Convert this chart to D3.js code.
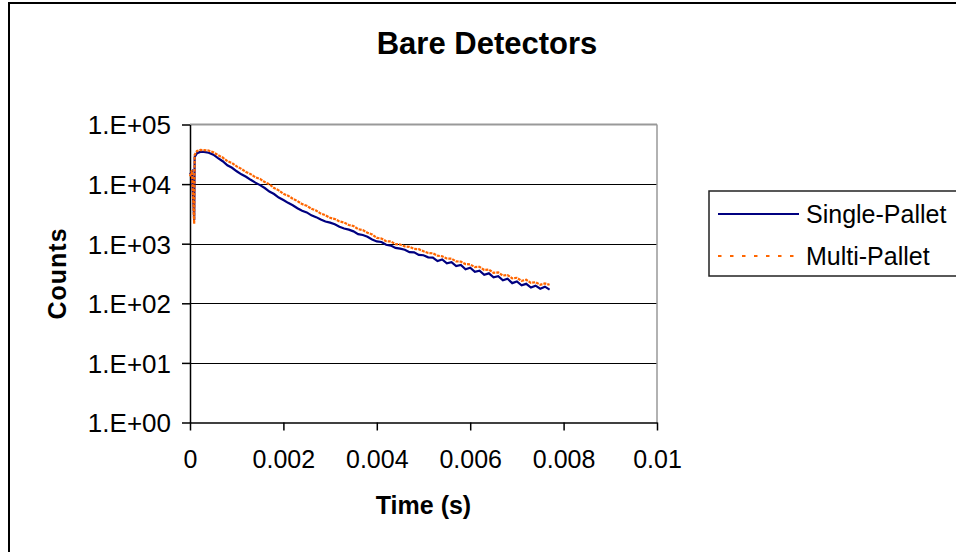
<!DOCTYPE html>
<html>
<head>
<meta charset="utf-8">
<script src="https://cdn.jsdelivr.net/npm/d3@7"></script>
<style>
	body { margin: 0; background: #fff; }
	svg { display: block; font-family: 'Liberation Sans', Arial, sans-serif; }
</style>
</head>
<body>
<svg class="chart"></svg>
<script>
const [width, height] = [956, 552]

// Time bins (s)
const times = [
	0, 0.00004, 0.00009, 0.0001, 0.00015, 0.00022,
	0.0003, 0.0004, 0.0005, 0.0006, 0.0007, 0.0008, 0.0009, 0.0010,
	0.0011, 0.0012, 0.0013, 0.0014, 0.0015, 0.0016, 0.0017, 0.0018, 0.0019, 0.0020,
	0.0021, 0.0022, 0.0023, 0.0024, 0.0025, 0.0026, 0.0027, 0.0028, 0.0029, 0.0030,
	0.0031, 0.0032, 0.0033, 0.0034, 0.0035, 0.0036, 0.0037, 0.0038, 0.0039, 0.0040,
	0.0041, 0.0042, 0.0043, 0.0044, 0.0045, 0.0046, 0.0047, 0.0048, 0.0049, 0.0050,
	0.0051, 0.0052, 0.0053, 0.0054, 0.0055, 0.0056, 0.0057, 0.0058, 0.0059, 0.0060,
	0.0061, 0.0062, 0.0063, 0.0064, 0.0065, 0.0066, 0.0067, 0.0068, 0.0069, 0.0070,
	0.0071, 0.0072, 0.0073, 0.0074, 0.0075, 0.0076, 0.0077,
]

const singlePallet = [
	14500, 16000, 2500, 28500, 33000, 34600,
	34700, 33600, 31100, 27300, 24200, 20700, 18800, 16400,
	14600, 13300, 11800, 10600, 9600, 8600, 7500, 6820, 5950, 5400,
	4850, 4420, 3940, 3580, 3350, 2990, 2790, 2540, 2360, 2260,
	2120, 1920, 1800, 1720, 1610, 1450, 1400, 1310, 1180, 1090,
	1070, 960, 930, 850, 825, 790, 720, 715, 650, 640,
	590, 585, 510, 545, 470, 490, 420, 440, 372, 395,
	338, 352, 300, 318, 272, 285, 243, 258, 218, 232,
	200, 212, 184, 198, 176, 190, 170,
]

const multiPallet = [
	13500, 17000, 2150, 31000, 36000, 37400,
	37200, 36500, 34200, 30600, 27900, 24300, 22600, 19800,
	18000, 16000, 14700, 13000, 12200, 10800, 9900, 8600, 7850, 6850,
	6400, 5680, 5200, 4620, 4330, 3850, 3600, 3200, 3000, 2720,
	2600, 2370, 2270, 2060, 1980, 1760, 1690, 1530, 1430, 1250,
	1220, 1100, 1090, 985, 970, 900, 885, 820, 810, 745,
	700, 690, 630, 615, 565, 560, 505, 500, 455, 448,
	405, 410, 362, 368, 325, 330, 292, 298, 262, 268,
	238, 248, 220, 226, 205, 215, 205,
]

const seriesNames = ['Single-Pallet', 'Multi-Pallet']
const seriesColors = ['#000080', '#ff6600']

const xTicks = [0, 0.002, 0.004, 0.006, 0.008, 0.01]
const xTickLabels = ['0', '0.002', '0.004', '0.006', '0.008', '0.01']
const yTicks = [1, 10, 100, 1000, 10000, 100000]
const yTickLabels = ['1.E+00', '1.E+01', '1.E+02', '1.E+03', '1.E+04', '1.E+05']

const plot = { left: 190, right: 657, top: 124.5, bottom: 422.5 }

const svg = d3.select('svg.chart')
	.attr('width', width)
	.attr('height', height)
	.attr('viewBox', `0 0 ${width} ${height}`)

svg.append('rect')
	.attr('width', width).attr('height', height)
	.attr('fill', '#fff')

// outer chart border (runs off the right and bottom edges)
svg.append('rect')
	.attr('x', 9).attr('y', 3)
	.attr('width', 1000).attr('height', 600)
	.attr('fill', 'none')
	.attr('stroke', '#000')
	.attr('stroke-width', 2)

const x = d3.scaleLinear()
	.domain([0, 0.01])
	.range([plot.left, plot.right])

const y = d3.scaleLog()
	.domain([1, 100000])
	.range([plot.bottom, plot.top])

// gridlines
svg.append('g')
	.selectAll('line')
		.data(yTicks.slice(1, -1))
	.enter().append('line')
		.attr('x1', plot.left).attr('x2', plot.right)
		.attr('y1', d => Math.round(y(d)) + 0.5).attr('y2', d => Math.round(y(d)) + 0.5)
		.attr('stroke', '#000')

// plot frame: top and right in grey
svg.append('line')
	.attr('x1', plot.left).attr('x2', plot.right)
	.attr('y1', plot.top).attr('y2', plot.top)
	.attr('stroke', '#999').attr('stroke-width', 2)
svg.append('line')
	.attr('x1', plot.right).attr('x2', plot.right)
	.attr('y1', plot.top).attr('y2', plot.bottom)
	.attr('stroke', '#999').attr('stroke-width', 1.5)

const yAxis = svg.append('g')
	.attr('transform', `translate(${plot.left},0)`)
	.call(d3.axisLeft(y)
		.tickValues(yTicks)
		.tickFormat((d, i) => yTickLabels[i])
		.tickSize(8)
		.tickSizeOuter(0)
		.tickPadding(11))

const xAxis = svg.append('g')
	.attr('transform', `translate(0,${plot.bottom})`)
	.call(d3.axisBottom(x)
		.tickValues(xTicks)
		.tickFormat((d, i) => xTickLabels[i])
		.tickSize(8)
		.tickSizeOuter(0)
		.tickPadding(20))

svg.selectAll('.domain, .tick line')
	.attr('stroke', '#000')
	.attr('stroke-width', 1.5)

svg.selectAll('.tick text')
	.attr('fill', '#000')
	.style('font-size', '25px')
	.style('font-family', "'Liberation Sans', Arial, sans-serif")

yAxis.selectAll('.tick text')
	.attr('dy', '0.36em')
	.style('font-size', '26px')

// series
const series = [singlePallet, multiPallet]
const line = d3.line()
	.x((d, i) => x(times[i]))
	.y(d => y(d))

svg.append('g')
	.selectAll('path')
		.data(series)
	.enter().append('path')
		.attr('d', line)
		.attr('fill', 'none')
		.attr('stroke', (d, i) => seriesColors[i])
		.attr('stroke-width', 2.2)
		.attr('stroke-dasharray', (d, i) => i === 1 ? '3,1' : null)
		.attr('stroke-linejoin', 'miter')

// title and axis titles
svg.append('text')
	.attr('x', 487).attr('y', 54)
	.attr('text-anchor', 'middle')
	.style('font-size', '31px')
	.style('font-weight', 'bold')
	.text('Bare Detectors')

svg.append('text')
	.attr('x', (plot.left + plot.right) / 2).attr('y', 514)
	.attr('text-anchor', 'middle')
	.style('font-size', '25px')
	.style('font-weight', 'bold')
	.text('Time (s)')

svg.append('text')
	.attr('transform', `translate(66,${(plot.top + plot.bottom) / 2}) rotate(-90)`)
	.attr('text-anchor', 'middle')
	.style('font-size', '25px')
	.style('font-weight', 'bold')
	.style('letter-spacing', '1px')
	.text('Counts')

// legend
const legend = svg.append('g')
	.attr('transform', 'translate(709,191)')

legend.append('rect')
	.attr('width', 300).attr('height', 85)
	.attr('fill', '#fff')
	.attr('stroke', '#222')
	.attr('stroke-width', 1.5)

const entry = legend.selectAll('g.entry')
		.data(seriesNames)
	.enter().append('g')
		.attr('class', 'entry')
		.attr('transform', (d, i) => `translate(0,${23 + i * 42})`)

entry.append('line')
	.attr('x1', 9).attr('x2', 90)
	.attr('stroke', (d, i) => seriesColors[i])
	.attr('stroke-width', 2)
	.attr('stroke-dasharray', (d, i) => i === 1 ? '3.5,8.5' : null)

entry.append('text')
	.attr('x', 97).attr('y', 9)
	.style('font-size', '25px')
	.text(d => d)
</script>
</body>
</html>
